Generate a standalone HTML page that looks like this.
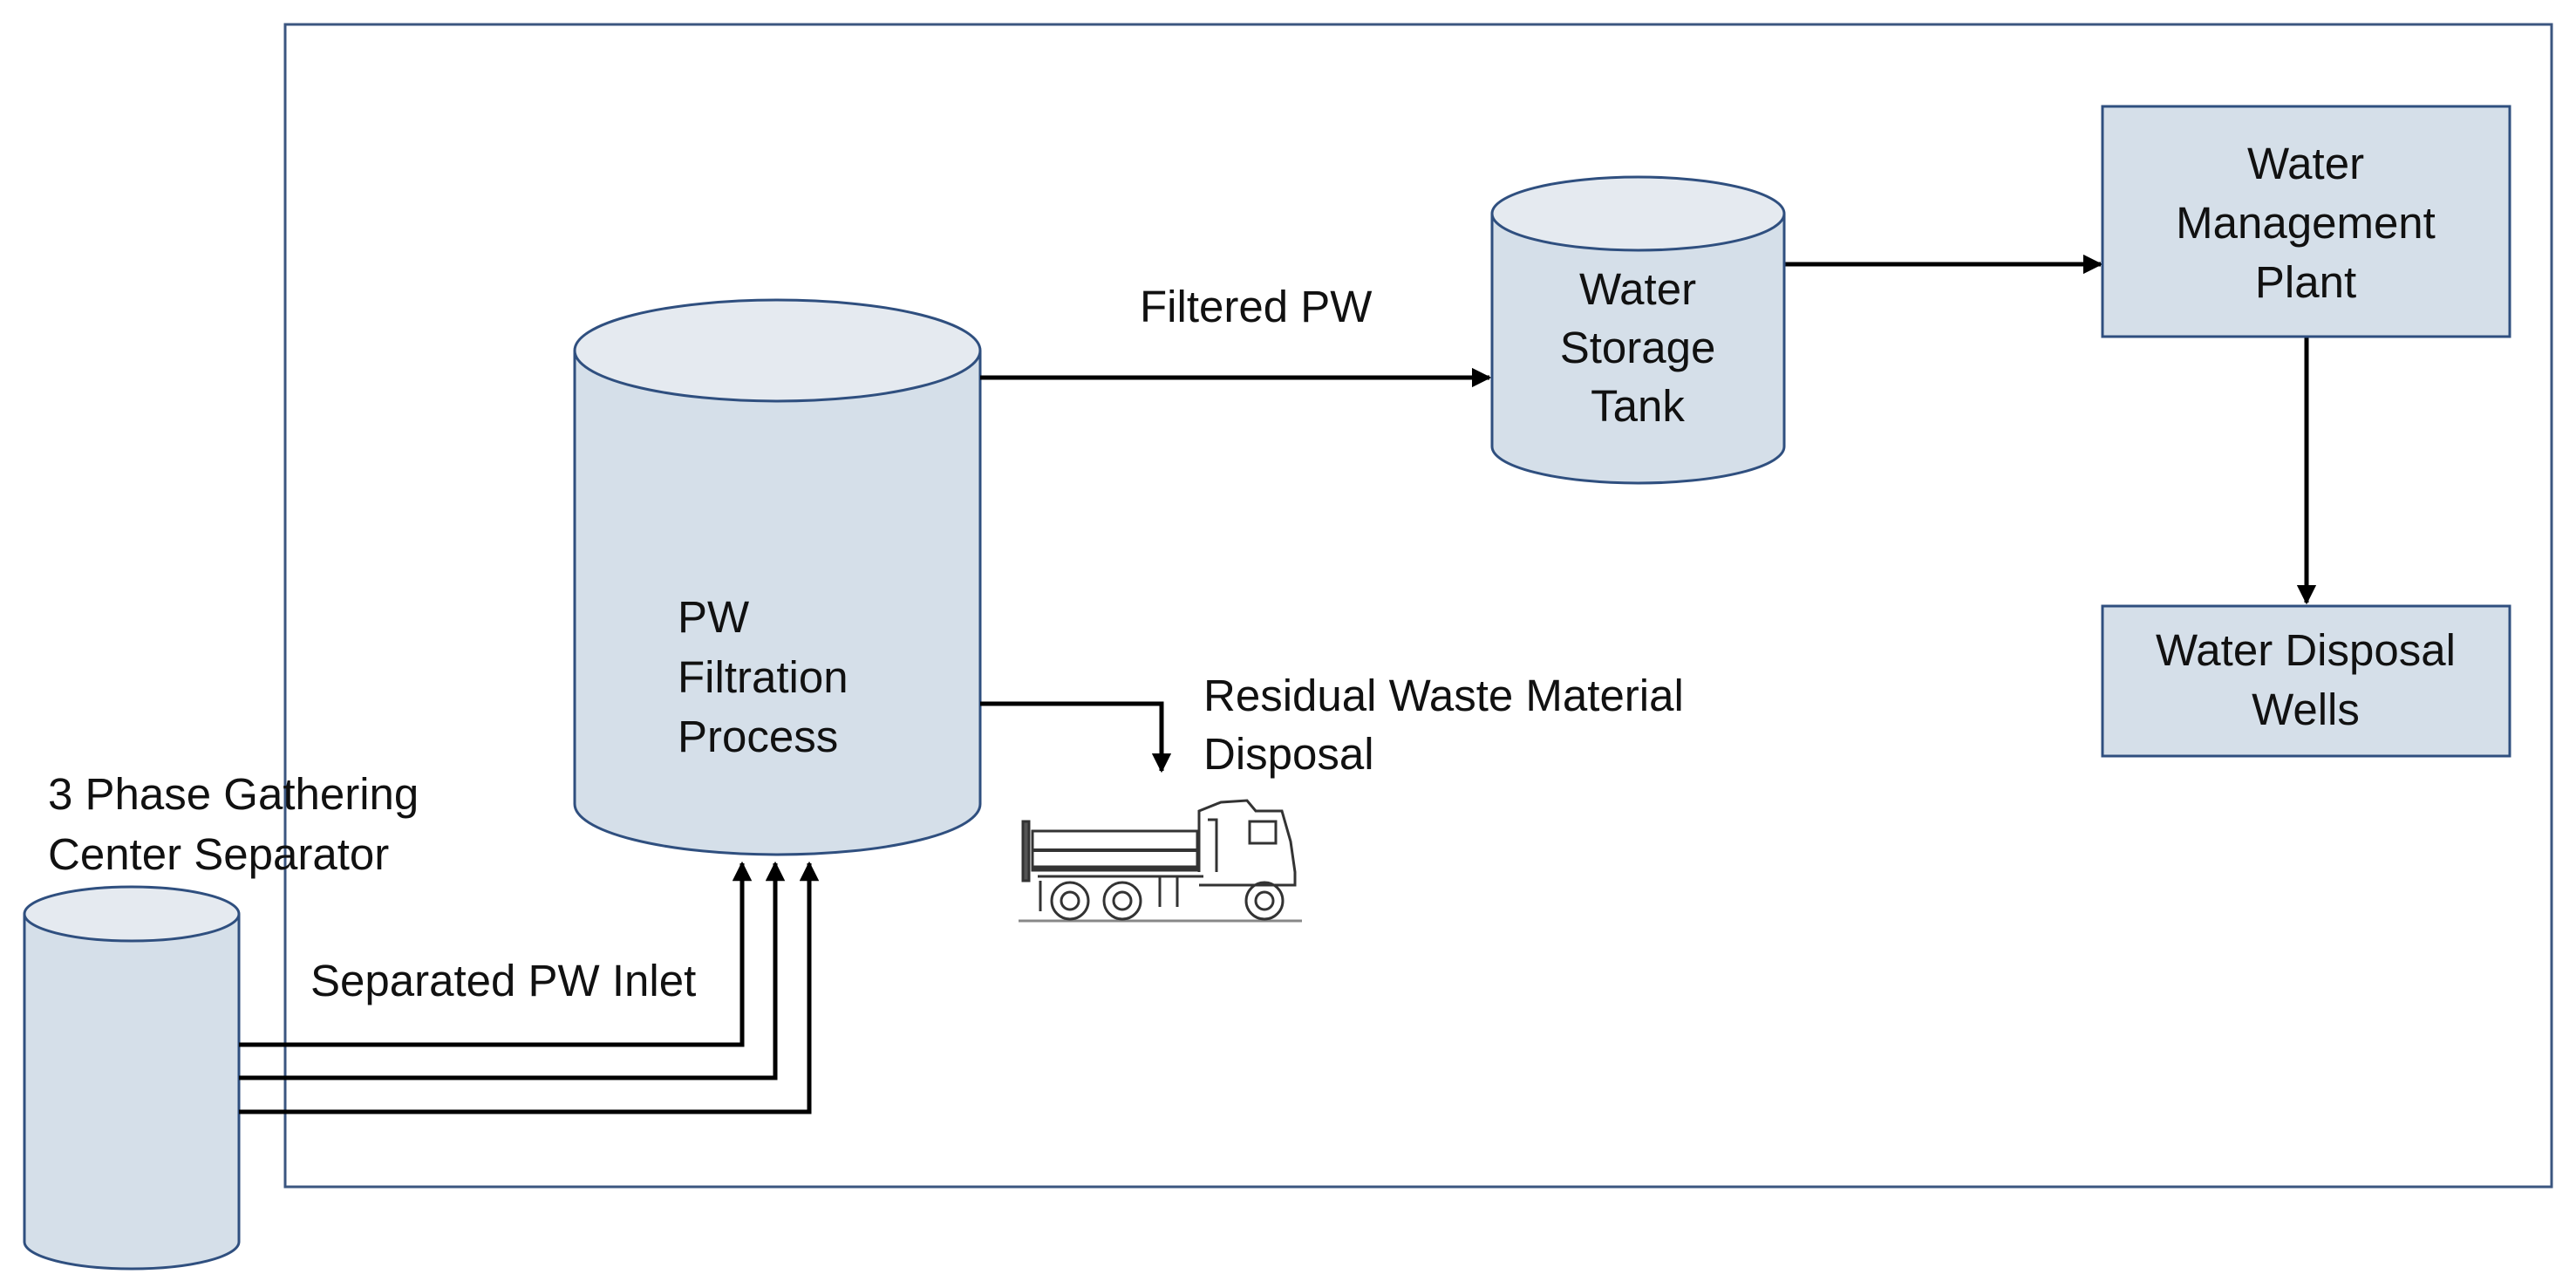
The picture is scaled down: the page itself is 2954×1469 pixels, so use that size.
<!DOCTYPE html>
<html><head><meta charset="utf-8"><style>
html,body{margin:0;padding:0;background:#fff;}
svg{display:block;}
text{font-family:"Liberation Sans",sans-serif;font-size:51px;fill:#111;}
</style></head><body>
<svg width="2954" height="1469" viewBox="0 0 2954 1469" xmlns="http://www.w3.org/2000/svg">
<defs>
<marker id="ah" viewBox="0 0 10 10" refX="9" refY="5" markerWidth="4.5" markerHeight="4.5" orient="auto" markerUnits="strokeWidth">
<path d="M0,0 L10,5 L0,10 z" fill="#000"/></marker>
</defs>
<rect x="327" y="28" width="2599" height="1333" fill="none" stroke="#3b5680" stroke-width="3"/>

<path d="M659,402 L659,922 A232.5,58 0 0 0 1124,922 L1124,402" fill="#d5dfe9" stroke="#2f4f7f" stroke-width="3"/>
<ellipse cx="891.5" cy="402" rx="232.5" ry="58" fill="#e5eaf0" stroke="#2f4f7f" stroke-width="3"/>
<text x="777" y="725">PW</text>
<text x="777" y="794">Filtration</text>
<text x="777" y="862">Process</text>

<path d="M28,1048 L28,1424 A123,31 0 0 0 274,1424 L274,1048" fill="#d5dfe9" stroke="#2f4f7f" stroke-width="3"/>
<ellipse cx="151" cy="1048" rx="123" ry="31" fill="#e5eaf0" stroke="#2f4f7f" stroke-width="3"/>
<text x="55" y="928">3 Phase Gathering</text>
<text x="55" y="997">Center Separator</text>

<g fill="none" stroke="#000" stroke-width="5">
<path d="M274,1198 L851,1198 L851,990" marker-end="url(#ah)"/>
<path d="M274,1236 L889,1236 L889,990" marker-end="url(#ah)"/>
<path d="M274,1275 L928,1275 L928,990" marker-end="url(#ah)"/>
<path d="M1124,433 L1708,433" marker-end="url(#ah)"/>
<path d="M1124,807 L1332,807 L1332,884" marker-end="url(#ah)"/>
<path d="M2046,303 L2409,303" marker-end="url(#ah)"/>
<path d="M2645,386 L2645,691" marker-end="url(#ah)"/>
</g>
<text x="356" y="1142">Separated PW Inlet</text>
<text x="1307" y="369">Filtered PW</text>
<text x="1380" y="815">Residual Waste Material</text>
<text x="1380" y="882">Disposal</text>

<path d="M1711,245 L1711,512 A167.5,42 0 0 0 2046,512 L2046,245" fill="#d5dfe9" stroke="#2f4f7f" stroke-width="3"/>
<ellipse cx="1878.5" cy="245" rx="167.5" ry="42" fill="#e5eaf0" stroke="#2f4f7f" stroke-width="3"/>
<g text-anchor="middle">
<text x="1878" y="349">Water</text>
<text x="1878" y="416">Storage</text>
<text x="1878" y="483">Tank</text>
</g>

<rect x="2411" y="122" width="467" height="264" fill="#d5dfe9" stroke="#2f4f7f" stroke-width="3"/>
<rect x="2411" y="695" width="467" height="172" fill="#d5dfe9" stroke="#2f4f7f" stroke-width="3"/>
<g text-anchor="middle">
<text x="2644" y="205">Water</text>
<text x="2644" y="273">Management</text>
<text x="2644" y="341">Plant</text>
<text x="2644" y="763">Water Disposal</text>
<text x="2644" y="831">Wells</text>
</g>

<g fill="none" stroke="#333" stroke-width="3">
<line x1="1168" y1="1056" x2="1493" y2="1056" stroke="#888"/>
<rect x="1173" y="942" width="7" height="68" fill="#555"/>
<rect x="1184" y="953" width="189" height="45"/>
<line x1="1184" y1="975" x2="1373" y2="975" stroke-width="4"/>
<line x1="1184" y1="995" x2="1373" y2="995" stroke-width="5"/>
<line x1="1190" y1="1005" x2="1380" y2="1005"/>
<path d="M1375,1000 L1375,930 L1400,920 L1430,918 L1440,930 L1470,930 L1480,965 L1485,1000 L1485,1015 L1375,1015"/>
<rect x="1433" y="942" width="30" height="25"/>
<path d="M1385,940 L1395,940 L1395,1000"/>
<line x1="1330" y1="1005" x2="1330" y2="1040"/>
<line x1="1350" y1="1005" x2="1350" y2="1040"/>
<line x1="1193" y1="1010" x2="1193" y2="1045"/>
<circle cx="1227" cy="1033" r="21"/><circle cx="1227" cy="1033" r="10"/>
<circle cx="1287" cy="1033" r="21"/><circle cx="1287" cy="1033" r="10"/>
<circle cx="1450" cy="1033" r="21"/><circle cx="1450" cy="1033" r="10"/>
</g>
</svg>
</body></html>
